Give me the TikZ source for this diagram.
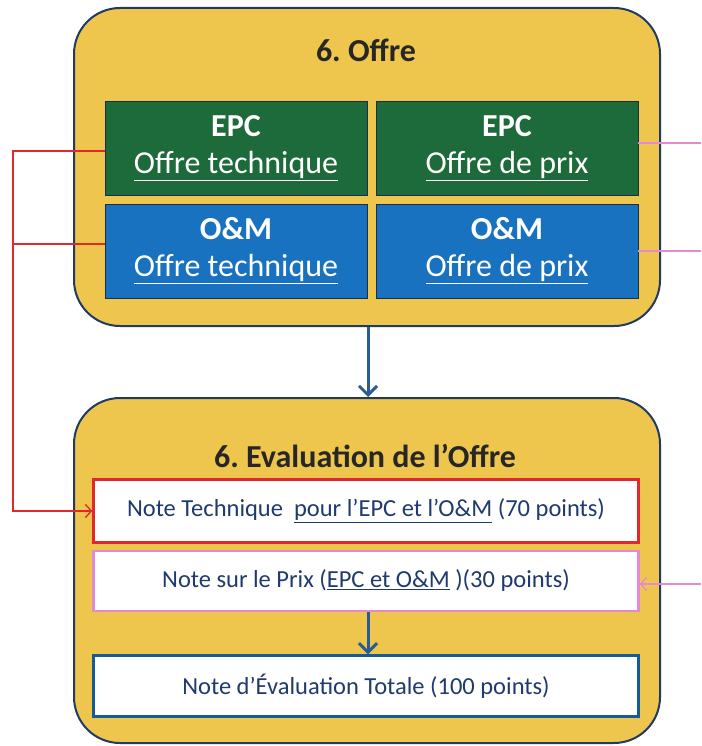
\documentclass[tikz,border=0pt]{standalone}
\usepackage{fontspec}
\setmainfont{Carlito}
\usetikzlibrary{arrows.meta}
\frenchspacing

\definecolor{panelfill}{HTML}{EEC64E}
\definecolor{paneledge}{HTML}{1F3A63}
\definecolor{epcgreen}{HTML}{1D6A3B}
\definecolor{ombblue}{HTML}{1872BF}
\definecolor{titletext}{HTML}{262626}
\definecolor{notetext}{HTML}{1F3A6E}
\definecolor{techred}{HTML}{E0282E}
\definecolor{prixpink}{HTML}{E58AD2}
\definecolor{flowblue}{HTML}{2A5C94}

\tikzset{
  panel/.style={draw=paneledge, line width=2pt, fill=panelfill,
    rounded corners=46pt, inner sep=0pt},
  cell/.style={draw=paneledge!80!black, line width=0.8pt, text=white,
    align=center, inner sep=0pt, minimum width=262pt, minimum height=94pt,
    font=\fontsize{32}{37}\selectfont},
  notebox/.style={draw, line width=2.4pt, fill=white, text=notetext,
    inner sep=0pt, minimum width=545pt, font=\fontsize{24.5}{29}\selectfont},
  paneltitle/.style={text=titletext, font=\bfseries\fontsize{32}{37}\selectfont},
  flow/.style={draw=flowblue, line width=3pt,
    -{Straight Barb[length=9pt,width=18pt,line width=3pt]}},
  techlink/.style={draw=techred, line width=1.3pt},
  prixlink/.style={draw=prixpink, line width=1.3pt},
  linktip/.style={-{Straight Barb[length=6pt,width=13pt,line width=1.3pt]}},
}

\begin{document}
\begin{tikzpicture}[x=1pt,y=-1pt]
\useasboundingbox (0,0) rectangle (701,746);

% offer panel with its four parts
\node[panel, minimum width=586pt, minimum height=318pt] (offre) at (367,167) {};
\node[paneltitle] (offreT) at (366,50) {6. Offre};
\node[cell, fill=epcgreen] (epcT) at (236,148)
  {\textbf{EPC}\\\underline{Offre technique}};
\node[cell, fill=epcgreen] (epcP) at (507,148)
  {\textbf{EPC}\\\underline{Offre de prix}};
\node[cell, fill=ombblue] (omT) at (236,251)
  {\textbf{O\&M}\\\underline{Offre technique}};
\node[cell, fill=ombblue] (omP) at (507,251)
  {\textbf{O\&M}\\\underline{Offre de prix}};

% evaluation panel with its three scores
\node[panel, minimum width=586pt, minimum height=345pt] (eval) at (367,570.5) {};
\node[paneltitle] (evalT) at (365,456) {6. Evaluation de l’Offre};
\node[notebox, draw=techred, minimum height=63pt] (tech) at (366,511)
  {Note Technique \ \underline{pour l’EPC et l’O\&M} (70 points)};
\node[notebox, draw=prixpink, minimum height=60pt] (prix) at (366,581)
  {Note sur le Prix (\underline{EPC et O\&M} )(30 points)};
\node[notebox, draw=ombblue!80!black, minimum height=61pt] (total) at (366,686)
  {Note d’Évaluation Totale (100 points)};

% main flow
\draw[flow] (offre.south -| 368,0) -- (eval.north -| 368,0);
\draw[flow] (prix.south -| 368,0) -- (total.north -| 368,0);

% technical offers feed the technical score
\coordinate (railTop) at (13,151);
\coordinate (railMid) at (13,244);
\draw[techlink, linktip] (epcT.west |- railTop) -- (railTop)
  |- (tech.west);
\draw[techlink] (omT.west |- railMid) -- (railMid);

% price offers lead off to the right and come back to the price score
\coordinate (outA) at (701,143);
\coordinate (outB) at (701,251);
\coordinate (inC) at (701,584);
\draw[prixlink] (epcP.east |- outA) -- (outA);
\draw[prixlink] (omP.east |- outB) -- (outB);
\draw[prixlink, linktip] (inC) -- (prix.east |- inC);
\end{tikzpicture}
\end{document}
